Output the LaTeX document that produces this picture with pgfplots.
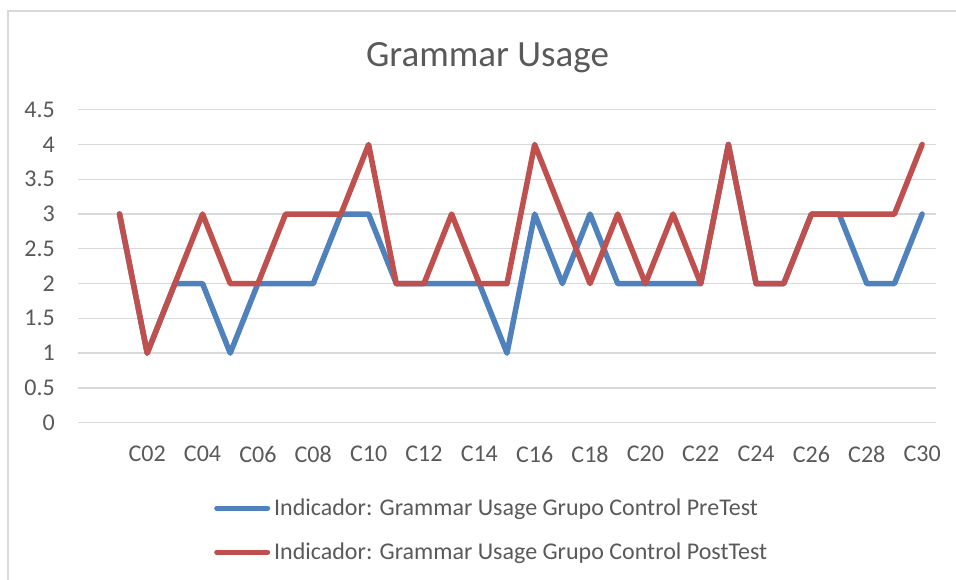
\documentclass[border=0pt]{standalone}
\usepackage{fontspec}
\setmainfont{Carlito}
\usepackage{pgfplots}
\pgfplotsset{compat=1.18}
\definecolor{xblue}{HTML}{4F81BD}
\definecolor{xred}{HTML}{C0504D}
\definecolor{xgrid}{HTML}{D9D9D9}
\definecolor{xtext}{HTML}{595959}
\definecolor{xframe}{HTML}{D9D9D9}
\begin{document}
\begin{tikzpicture}
\path[use as bounding box] (0pt,0pt) rectangle (956pt,-580pt);
\draw[xframe, line width=1.3pt] (8pt,-580pt) -- (8pt,-11pt) -- (956pt,-11pt);
\node[anchor=base, text=xtext, font=\fontsize{37}{42}\selectfont, inner sep=0pt] at (487.5pt,-66.7pt) {Grammar Usage};
\begin{axis}[
  at={(78pt,-422.7pt)}, anchor=south west,
  scale only axis, width=858pt, height=313pt,
  xmin=-0.5, xmax=30.5, ymin=0, ymax=4.5,
  xtick={2,4,...,30},
  xticklabels={C02,C04,C06,C08,C10,C12,C14,C16,C18,C20,C22,C24,C26,C28,C30},
  ytick={0,0.5,...,4.5},
  yticklabels={0,0.5,1,1.5,2,2.5,3,3.5,4,4.5},
  major tick length=0pt,
  axis line style={draw=none},
  ymajorgrids, grid style={xgrid, line width=1.3pt},
  tick label style={text=xtext, font=\fontsize{24}{28}\selectfont},
  yticklabel style={inner sep=0pt, xshift=-23pt},
  xticklabel style={inner sep=0pt, yshift=-23pt},
  /pgf/number format/assume math mode=true,
  clip=false,
  legend style={draw=none, fill=none, at={(0.1585,-0.243)}, anchor=north west,
    font=\fontsize{24}{28}\selectfont, text=xtext, row sep=26pt, column sep=4pt, inner sep=0pt,
    nodes={inner sep=0pt}},
  legend cell align=left,
  legend image code/.code={\draw[#1, line width=5pt, line cap=round] (2.5pt,0pt) -- (53.5pt,0pt);},
]
\addplot[xblue, line width=5.5pt, line join=round, line cap=round] coordinates {
(1,3)(2,1)(3,2)(4,2)(5,1)(6,2)(7,2)(8,2)(9,3)(10,3)
(11,2)(12,2)(13,2)(14,2)(15,1)(16,3)(17,2)(18,3)(19,2)(20,2)
(21,2)(22,2)(23,4)(24,2)(25,2)(26,3)(27,3)(28,2)(29,2)(30,3)};
\addlegendentry{Indicador: Grammar Usage Grupo Control PreTest}
\addplot[xred, line width=5.5pt, line join=round, line cap=round] coordinates {
(1,3)(2,1)(3,2)(4,3)(5,2)(6,2)(7,3)(8,3)(9,3)(10,4)
(11,2)(12,2)(13,3)(14,2)(15,2)(16,4)(17,3)(18,2)(19,3)(20,2)
(21,3)(22,2)(23,4)(24,2)(25,2)(26,3)(27,3)(28,3)(29,3)(30,4)};
\addlegendentry{Indicador: Grammar Usage Grupo Control PostTest}
\end{axis}
\end{tikzpicture}
\end{document}
